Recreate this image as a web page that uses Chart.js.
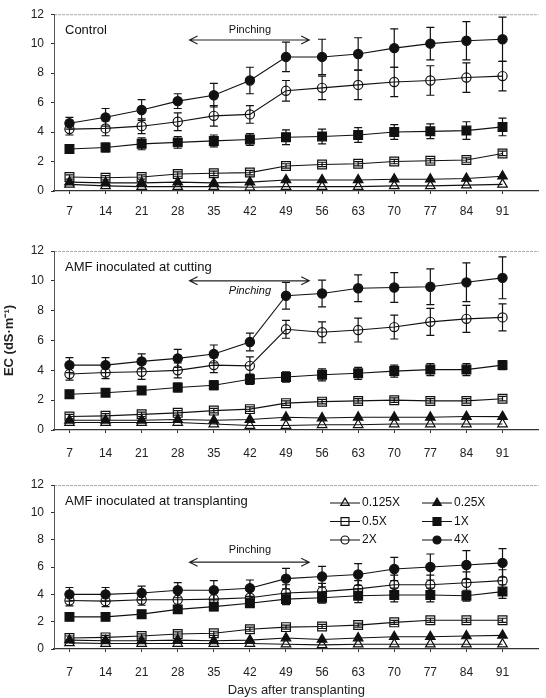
<!DOCTYPE html>
<html>
<head>
<meta charset="utf-8">
<script src="https://cdn.jsdelivr.net/npm/chart.js@4.4.1/dist/chart.umd.min.js"></script>
<style>
  body { margin: 0; background: #fff; }
  .panel { position: absolute; left: 0; width: 546px; }
</style>
</head>
<body>
<div class="panel" style="top:0px;height:222px"><canvas id="c1" width="546" height="222"></canvas></div>
<div class="panel" style="top:225px;height:235px"><canvas id="c2" width="546" height="235"></canvas></div>
<div class="panel" style="top:460px;height:238px"><canvas id="c3" width="546" height="238"></canvas></div>
<script>
const days = [7, 14, 21, 28, 35, 42, 49, 56, 63, 70, 77, 84, 91];
const seriesNames = ['0.125X', '0.25X', '0.5X', '1X', '2X', '4X'];

// Control
const ctl_0125 = [0.45, 0.35, 0.3, 0.3, 0.3, 0.25, 0.3, 0.3, 0.3, 0.35, 0.35, 0.4, 0.45];
const ctl_025 = [0.6, 0.55, 0.55, 0.6, 0.55, 0.6, 0.75, 0.75, 0.75, 0.8, 0.8, 0.85, 1.0];
const ctl_05 = [0.95, 0.9, 0.95, 1.15, 1.2, 1.25, 1.7, 1.8, 1.85, 2.0, 2.05, 2.1, 2.55];
const ctl_1 = [2.85, 2.95, 3.2, 3.3, 3.4, 3.5, 3.65, 3.7, 3.8, 4.0, 4.05, 4.1, 4.35];
const ctl_2 = [4.2, 4.25, 4.4, 4.7, 5.1, 5.2, 6.8, 7.0, 7.2, 7.4, 7.5, 7.7, 7.8];
const ctl_4 = [4.6, 5.0, 5.5, 6.1, 6.5, 7.5, 9.1, 9.1, 9.3, 9.7, 10.0, 10.2, 10.3];
const ctl_err_05 = [0.15, 0.15, 0.15, 0.15, 0.15, 0.15, 0.15, 0.15, 0.15, 0.15, 0.15, 0.15, 0.15];
const ctl_err_1 = [0.2, 0.3, 0.4, 0.4, 0.4, 0.4, 0.5, 0.5, 0.5, 0.5, 0.5, 0.6, 0.6];
const ctl_err_2 = [0.4, 0.5, 0.5, 0.6, 0.7, 0.6, 0.7, 0.8, 1.0, 1.0, 1.0, 1.0, 1.0];
const ctl_err_4 = [0.4, 0.6, 0.7, 0.5, 0.8, 0.9, 1.0, 1.2, 1.1, 1.3, 1.1, 1.3, 1.5];

// AMF inoculated at cutting
const cut_0125 = [0.5, 0.5, 0.5, 0.5, 0.4, 0.3, 0.3, 0.35, 0.35, 0.4, 0.4, 0.4, 0.4];
const cut_025 = [0.65, 0.65, 0.65, 0.7, 0.65, 0.7, 0.85, 0.8, 0.85, 0.85, 0.85, 0.9, 0.9];
const cut_05 = [0.9, 0.95, 1.05, 1.15, 1.3, 1.4, 1.8, 1.9, 1.95, 2.0, 1.95, 1.95, 2.1];
const cut_1 = [2.4, 2.5, 2.65, 2.85, 3.0, 3.4, 3.55, 3.7, 3.8, 3.95, 4.05, 4.05, 4.35];
const cut_2 = [3.75, 3.85, 3.9, 4.0, 4.35, 4.3, 6.75, 6.55, 6.7, 6.9, 7.25, 7.45, 7.55];
const cut_4 = [4.35, 4.35, 4.6, 4.8, 5.1, 5.9, 9.0, 9.15, 9.5, 9.55, 9.6, 9.9, 10.2];
const cut_err_05 = [0.15, 0.15, 0.15, 0.15, 0.15, 0.15, 0.15, 0.15, 0.15, 0.15, 0.15, 0.15, 0.15];
const cut_err_1 = [0.2, 0.2, 0.25, 0.3, 0.3, 0.35, 0.35, 0.4, 0.4, 0.4, 0.4, 0.4, 0.3];
const cut_err_2 = [0.4, 0.4, 0.5, 0.5, 0.5, 0.6, 0.6, 0.7, 0.8, 0.8, 0.9, 0.9, 0.9];
const cut_err_4 = [0.5, 0.5, 0.5, 0.6, 0.6, 0.6, 0.9, 0.9, 0.9, 1.0, 1.2, 1.3, 1.4];

// AMF inoculated at transplanting
const tr_0125 = [0.45, 0.4, 0.4, 0.4, 0.4, 0.4, 0.35, 0.3, 0.35, 0.35, 0.35, 0.35, 0.35];
const tr_025 = [0.65, 0.6, 0.6, 0.65, 0.6, 0.65, 0.8, 0.7, 0.8, 0.9, 0.9, 0.95, 1.0];
const tr_05 = [0.8, 0.85, 0.95, 1.1, 1.15, 1.45, 1.6, 1.65, 1.75, 1.95, 2.1, 2.1, 2.1];
const tr_1 = [2.35, 2.35, 2.55, 2.9, 3.1, 3.35, 3.65, 3.75, 3.9, 3.95, 3.95, 3.9, 4.2];
const tr_2 = [3.55, 3.5, 3.6, 3.6, 3.65, 3.75, 4.1, 4.2, 4.4, 4.7, 4.7, 4.85, 5.0];
const tr_4 = [4.0, 4.0, 4.1, 4.3, 4.3, 4.45, 5.15, 5.3, 5.45, 5.85, 6.0, 6.15, 6.3];
const tr_err_05 = [0.15, 0.15, 0.15, 0.15, 0.15, 0.15, 0.15, 0.15, 0.15, 0.15, 0.15, 0.15, 0.15];
const tr_err_1 = [0.2, 0.2, 0.2, 0.3, 0.3, 0.3, 0.4, 0.4, 0.5, 0.5, 0.5, 0.4, 0.5];
const tr_err_2 = [0.4, 0.4, 0.4, 0.5, 0.5, 0.5, 0.6, 0.6, 0.6, 0.7, 0.7, 0.8, 0.8];
const tr_err_4 = [0.5, 0.5, 0.5, 0.55, 0.7, 0.6, 0.75, 0.75, 0.8, 0.85, 0.95, 1.05, 1.05];

// pinching arrow span (days)
const pinchFrom = 30.3, pinchTo = 53.5, pinchMid = 42;

const styles = [
  {pointStyle: 'triangle', fill: false, r: 5.5},
  {pointStyle: 'triangle', fill: true, r: 5.5},
  {pointStyle: 'rect', fill: false, r: 6.2},
  {pointStyle: 'rect', fill: true, r: 6.2},
  {pointStyle: 'circle', fill: false, r: 4.6},
  {pointStyle: 'circle', fill: true, r: 4.6}
];

function makeDatasets(vals, errs) {
  return vals.map((v, i) => ({
    label: seriesNames[i],
    data: v.map((y, j) => ({x: days[j], y: y})),
    errors: errs[i],
    borderColor: '#111',
    borderWidth: 1.1,
    pointStyle: styles[i].pointStyle,
    pointRadius: styles[i].r,
    pointBackgroundColor: styles[i].fill ? '#111' : 'rgba(0,0,0,0)',
    pointBorderColor: '#111',
    pointBorderWidth: 1.2,
    tension: 0
  }));
}

const errorBars = {
  id: 'errorBars',
  afterDatasetsDraw(chart) {
    const c = chart.ctx, ys = chart.scales.y, xs = chart.scales.x;
    c.save();
    c.strokeStyle = '#111';
    c.lineWidth = 1.2;
    chart.data.datasets.forEach(ds => {
      if (!ds.errors) return;
      ds.data.forEach((p, j) => {
        const e = ds.errors[j];
        if (!e) return;
        const x = xs.getPixelForValue(p.x);
        const yt = ys.getPixelForValue(p.y + e), yb = ys.getPixelForValue(p.y - e);
        c.beginPath();
        c.moveTo(x, yt); c.lineTo(x, yb);
        c.moveTo(x - 4, yt); c.lineTo(x + 4, yt);
        c.moveTo(x - 4, yb); c.lineTo(x + 4, yb);
        c.stroke();
      });
    });
    c.restore();
  }
};

const decor = {
  id: 'decor',
  beforeDraw(chart) {
    const c = chart.ctx, a = chart.chartArea;
    c.save();
    c.strokeStyle = '#aaa';
    c.lineWidth = 1;
    c.setLineDash([3, 1]);
    c.beginPath();
    c.moveTo(a.left, a.top + 0.5); c.lineTo(a.right, a.top + 0.5);
    c.stroke();
    c.restore();
  },
  afterDraw(chart, args, o) {
    const c = chart.ctx, a = chart.chartArea, xs = chart.scales.x, ys = chart.scales.y;
    c.save();
    c.fillStyle = '#111';
    c.font = '13px "Liberation Sans", Arial, sans-serif';
    c.textBaseline = 'middle';
    c.textAlign = 'left';
    c.fillText(o.title, a.left + 11, a.top + 16);
    // pinching arrow
    const x1 = xs.getPixelForValue(pinchFrom), x2 = xs.getPixelForValue(pinchTo);
    const ya = ys.getPixelForValue(o.arrowY);
    c.strokeStyle = '#222';
    c.lineWidth = 1.2;
    c.beginPath();
    c.moveTo(x1, ya); c.lineTo(x2, ya);
    c.moveTo(x1 + 8, ya - 4); c.lineTo(x1, ya); c.lineTo(x1 + 8, ya + 4);
    c.moveTo(x2 - 8, ya - 4); c.lineTo(x2, ya); c.lineTo(x2 - 8, ya + 4);
    c.stroke();
    c.font = (o.italic ? 'italic ' : '') + '11px "Liberation Sans", Arial, sans-serif';
    c.textAlign = 'center';
    c.fillText('Pinching', xs.getPixelForValue(pinchMid), ys.getPixelForValue(o.textY));
    // legend
    if (o.legend) {
      c.font = '12px "Liberation Sans", Arial, sans-serif';
      c.textAlign = 'left';
      chart.data.datasets.forEach((ds, i) => {
        const col = i % 2, row = Math.floor(i / 2);
        const lx = a.left + 276 + col * 92, ly = a.top + 18 + row * 18.5;
        c.strokeStyle = '#111';
        c.lineWidth = 1;
        c.beginPath(); c.moveTo(lx, ly); c.lineTo(lx + 30, ly); c.stroke();
        c.fillStyle = ds.pointBackgroundColor;
        c.lineWidth = 1.2;
        Chart.helpers.drawPoint(c, {pointStyle: ds.pointStyle, radius: ds.pointRadius - 0.6, borderWidth: 1.2}, lx + 15, ly);
        c.fillStyle = '#111';
        c.fillText(ds.label, lx + 32, ly);
      });
    }
    c.restore();
  }
};

function makeChart(id, vals, errs, opt) {
  const tickFont = {family: '"Liberation Sans", Arial, sans-serif', size: 12};
  return new Chart(document.getElementById(id), {
    type: 'line',
    data: {datasets: makeDatasets(vals, errs)},
    plugins: [errorBars, decor],
    options: {
      responsive: false,
      animation: false,
      layout: {padding: {top: opt.padTop, right: 1, left: 0, bottom: 0}},
      plugins: {
        legend: {display: false},
        tooltip: {enabled: false},
        decor: opt
      },
      scales: {
        x: {
          type: 'linear',
          min: 4, max: 98,
          afterBuildTicks: s => { s.ticks = days.map(v => ({value: v})); },
          afterFit: s => { s.height = opt.xHeight; },
          grid: {drawOnChartArea: false, tickLength: 3, color: '#333'},
          border: {color: '#333', width: 1.2},
          ticks: {color: '#222', font: tickFont, padding: opt.tickPad, maxRotation: 0},
          title: {
            display: !!opt.xTitle,
            text: opt.xTitle || '',
            color: '#222',
            font: {family: '"Liberation Sans", Arial, sans-serif', size: 13},
            padding: {top: 4, bottom: 0}
          }
        },
        y: {
          min: 0, max: 12,
          afterFit: s => { s.width = 54; },
          grid: {drawOnChartArea: false, tickLength: 3, color: '#333'},
          border: {color: '#555', width: 1},
          ticks: {stepSize: 2, color: '#222', font: tickFont, padding: 7},
          title: {
            display: !!opt.yTitle,
            text: opt.yTitle || '',
            color: '#222',
            font: {family: '"Liberation Sans", Arial, sans-serif', size: 13, weight: 'bold'},
            padding: {top: 2, bottom: 0}
          }
        }
      }
    }
  });
}

makeChart('c1',
  [ctl_0125, ctl_025, ctl_05, ctl_1, ctl_2, ctl_4],
  [null, null, ctl_err_05, ctl_err_1, ctl_err_2, ctl_err_4],
  {title: 'Control', arrowY: 10.25, textY: 10.95, italic: false, padTop: 11, xHeight: 31, tickPad: 10});

makeChart('c2',
  [cut_0125, cut_025, cut_05, cut_1, cut_2, cut_4],
  [null, null, cut_err_05, cut_err_1, cut_err_2, cut_err_4],
  {title: 'AMF inoculated at cutting', arrowY: 10.0, textY: 9.35, italic: true, padTop: 26, xHeight: 30, tickPad: 13,
   yTitle: 'EC (dS\u00b7m\u207b\u00b9)'});

makeChart('c3',
  [tr_0125, tr_025, tr_05, tr_1, tr_2, tr_4],
  [null, null, tr_err_05, tr_err_1, tr_err_2, tr_err_4],
  {title: 'AMF inoculated at transplanting', arrowY: 6.35, textY: 7.25, italic: false, padTop: 25, xHeight: 49, tickPad: 13,
   xTitle: 'Days after transplanting', legend: true});
</script>
</body>
</html>
